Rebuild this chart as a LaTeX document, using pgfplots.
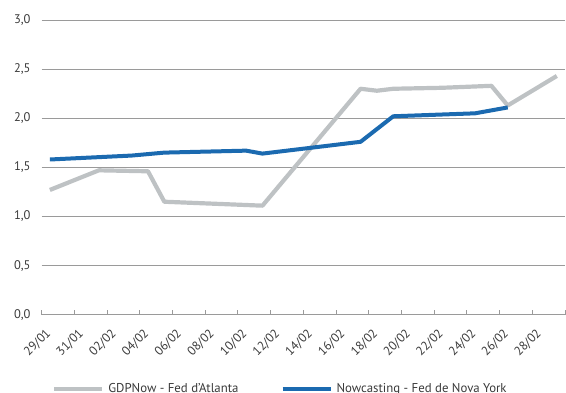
\documentclass[border=0pt]{standalone}
\usepackage{pgfplots}
\pgfplotsset{compat=1.18}
\usepackage{fontspec}
\setmainfont{PT Sans}
\usetikzlibrary{calc}

\definecolor{gdpgray}{HTML}{BEC2C4}
\definecolor{nyblue}{HTML}{1B6AB0}
\definecolor{gridgray}{HTML}{9A9A9A}
\definecolor{txt}{HTML}{3A3A3A}

% Day index: 0 = 29/01, 31 = 01/03
\pgfplotstableread{
d   v
0   1.27
3   1.47
6   1.46
7   1.15
13  1.11
19  2.30
20  2.28
21  2.30
24  2.31
27  2.33
28  2.13
31  2.43
}\gdpnow

\pgfplotstableread{
d   v
0   1.58
5   1.62
7   1.65
12  1.67
13  1.64
19  1.76
21  2.02
26  2.05
28  2.11
}\nowcast

\begin{document}
\begin{tikzpicture}
\begin{axis}[
  scale only axis,
  width=523.3pt, height=294.7pt,
  xmin=-0.5, xmax=31.5,
  ymin=0, ymax=3,
  axis lines*=left,
  x axis line style={draw=gridgray, line width=0.9pt},
  y axis line style={draw=none},
  xtick={0,2,...,30},
  xticklabels={29/01,31/01,02/02,04/02,06/02,08/02,10/02,12/02,14/02,16/02,18/02,20/02,22/02,24/02,26/02,28/02},
  minor xtick={-0.5,1.5,...,31.5},
  major tick length=0pt,
  minor tick length=5pt,
  tick align=inside,
  minor tick style={draw=gridgray, line width=0.9pt},
  ytick={0,0.5,...,3},
  ymajorgrids,
  major grid style={draw=gridgray, line width=0.8pt},
  /pgf/number format/.cd, fixed, fixed zerofill, precision=1, use comma, assume math mode=true,
  /pgfplots/.cd,
  tick label style={font=\fontsize{12.5}{15}\selectfont, text=txt},
  yticklabel style={anchor=east, inner sep=0pt, xshift=-11pt},
  xticklabel style={xshift=-5pt, yshift=-13pt, rotate=45, anchor=north east, inner sep=0pt},
  legend style={
    at={(axis description cs:0.458,-0.252)}, anchor=center,
    draw=none, fill=none, inner sep=0pt,
    font=\fontsize{12.8}{15}\selectfont, text=txt,
    legend columns=2,
    /tikz/every even column/.append style={column sep=38pt},
    nodes={inner sep=0pt, inner xsep=4pt},
  },
  legend cell align=left,
  legend image code/.code={\draw[#1] (0pt,0pt) -- (48pt,0pt);},
]
\addplot[gdpgray, line width=4.2pt, line join=round] table[x=d, y=v] {\gdpnow};
\addlegendentry{GDPNow - Fed d’Atlanta}
\addplot[nyblue, line width=4pt, line join=round] table[x=d, y=v] {\nowcast};
\addlegendentry{Nowcasting - Fed de Nova York}
\coordinate (o) at (rel axis cs:0,0);
\end{axis}
\pgfresetboundingbox
\useasboundingbox ($(o)+(-41.7pt,-77.3pt)$) rectangle ($(o)+(524.3pt,314.7pt)$);
\end{tikzpicture}
\end{document}
